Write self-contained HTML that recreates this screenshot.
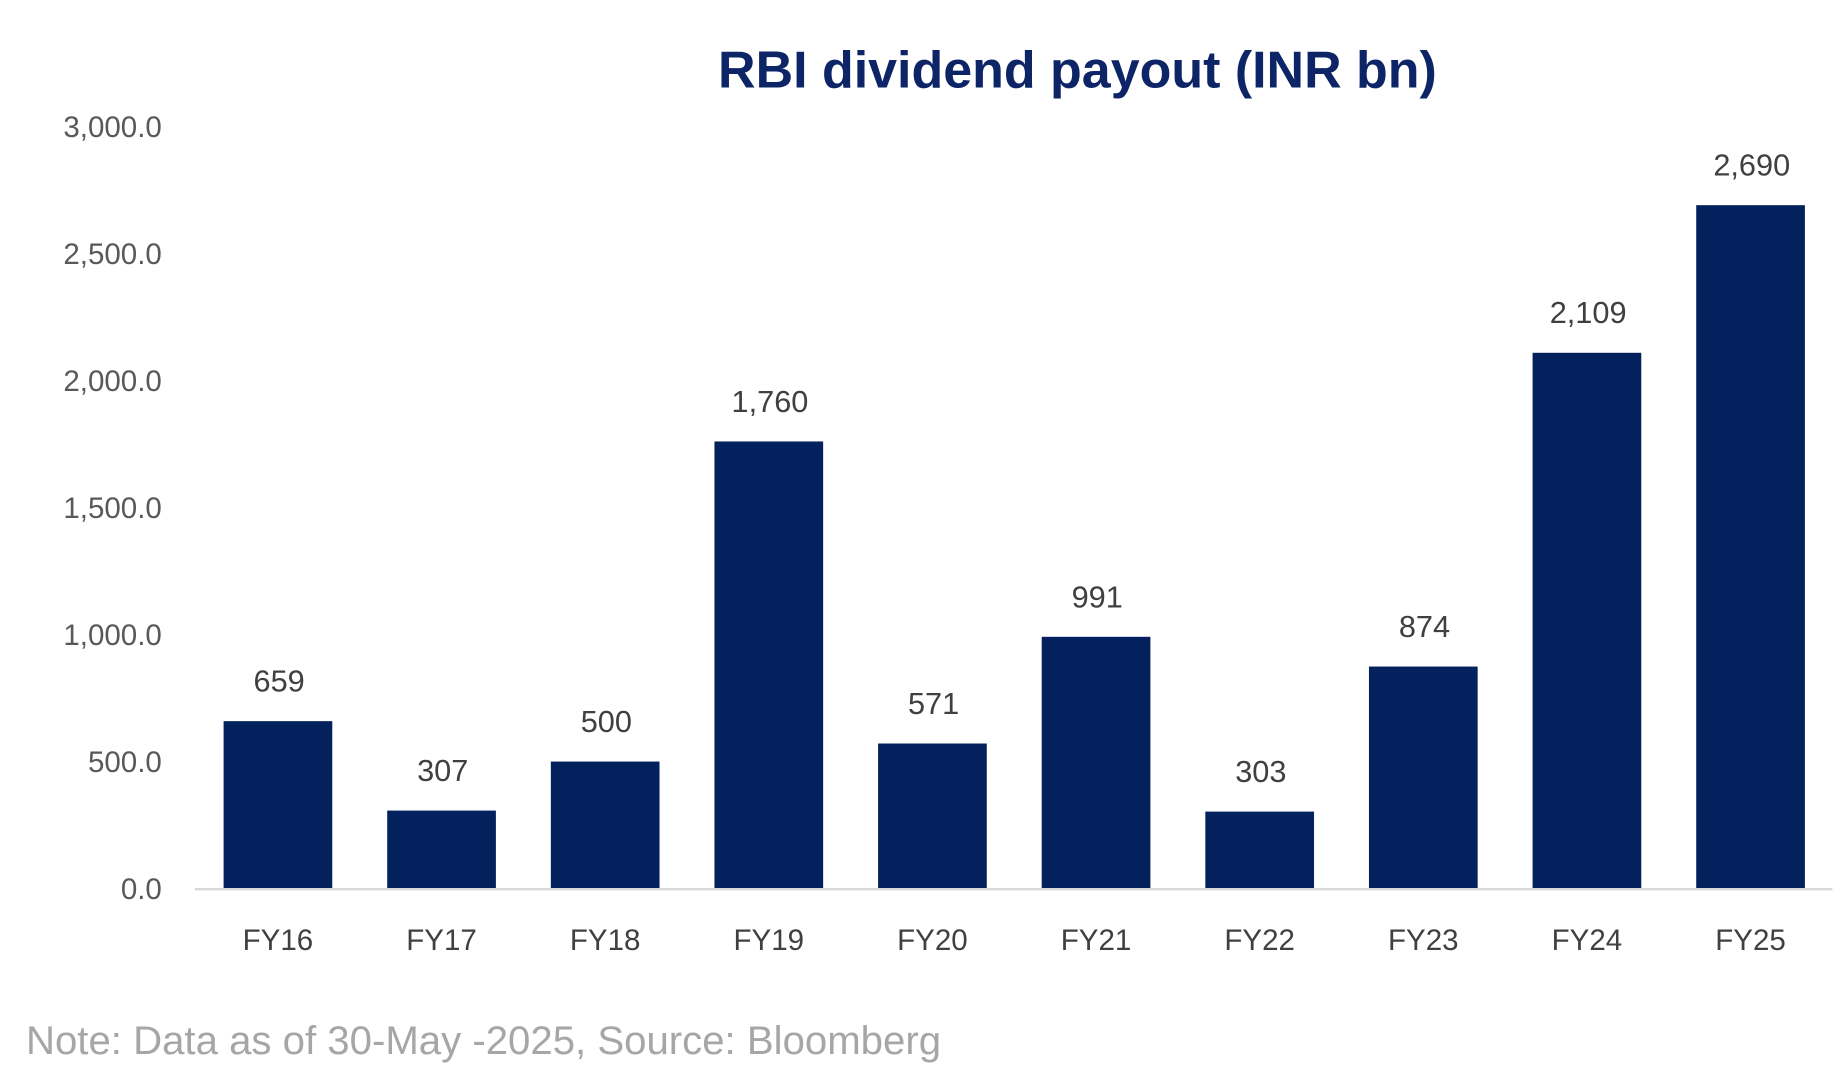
<!DOCTYPE html>
<html><head><meta charset="utf-8"><style>
html,body{margin:0;padding:0;background:#fff;overflow:hidden}
#wrap{width:1560px;height:914px;transform:scale(1.18141,1.18162);transform-origin:0 0;position:relative}
svg text{font-family:"Liberation Sans",sans-serif}
</style></head><body>
<div id="wrap">
<svg id="chart" width="1560" height="914">
<text x="912" y="74" text-anchor="middle" font-size="44" font-weight="bold" fill="#0d2466">RBI dividend payout (INR bn)</text>
<g id="yaxis"></g>
<g id="bars"></g>
<g id="xaxis"></g>
<line x1="165" y1="752.5" x2="1551" y2="752.5" stroke="#d9d9d9" stroke-width="2"/>
<text x="22" y="892" font-size="34" fill="#a6a6a6">Note: Data as of 30-May -2025, Source: Bloomberg</text>
</svg>
</div>
<script>
const categories=["FY16","FY17","FY18","FY19","FY20","FY21","FY22","FY23","FY24","FY25"];
const values=[659,307,500,1760,571,991,303,874,2109,2690];
const valueLabels=["659","307","500","1,760","571","991","303","874","2,109","2,690"];
const yTicks=[0,500,1000,1500,2000,2500,3000];
const yTickLabels=["0.0","500.0","1,000.0","1,500.0","2,000.0","2,500.0","3,000.0"];
const NS="http://www.w3.org/2000/svg";
const y0=752,y1=107,yMax=3000,xL=166,xR=1551;
const band=(xR-xL)/categories.length,bw=92;
function yS(v){return y0-(v/yMax)*(y0-y1);}
function xS(i){return xL+band*(i+0.5);}
function mk(tag,attrs,parent,txt){const e=document.createElementNS(NS,tag);for(const k in attrs)e.setAttribute(k,attrs[k]);if(txt!==undefined)e.textContent=txt;parent.appendChild(e);return e;}
const ya=document.getElementById('yaxis'),bg=document.getElementById('bars'),xa=document.getElementById('xaxis');
yTicks.forEach((t,i)=>{
 const el=mk('text',{x:137,y:yS(t)+9,'text-anchor':'end','font-size':25,fill:'#595959'},ya,yTickLabels[i]);
 
 
});
categories.forEach((c,i)=>{
 const cx=xS(i),top=yS(values[i]);
 const r=mk('rect',{x:cx-bw/2,y:top,width:bw,height:y0-top,fill:'#03215c'},bg);
 
 
 const vl=mk('text',{x:cx+1,y:top-25,'text-anchor':'middle','font-size':26,fill:'#404040'},bg,valueLabels[i]);
 
 
 const xl=mk('text',{x:cx,y:804,'text-anchor':'middle','font-size':25,fill:'#404040'},xa,c);
 
 
});
</script>
</body></html>
